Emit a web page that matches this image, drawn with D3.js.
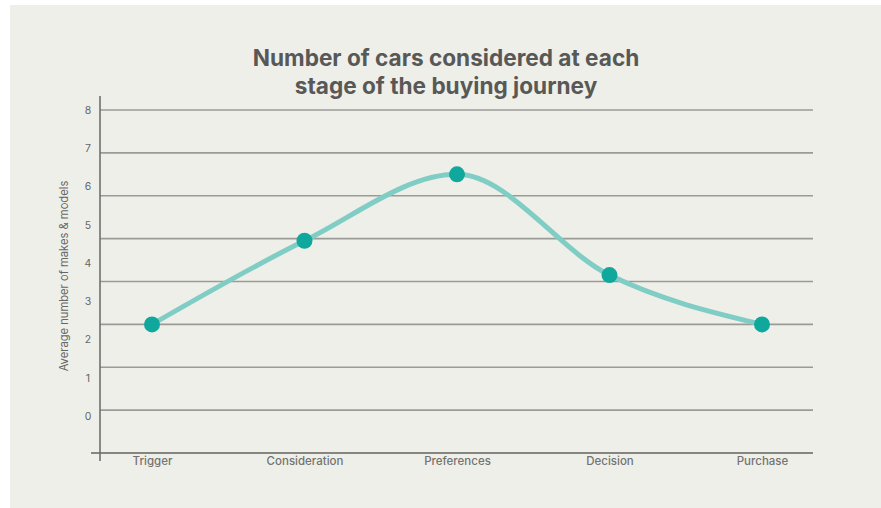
<!DOCTYPE html>
<html>
<head>
<meta charset="utf-8">
<script src="https://cdn.jsdelivr.net/npm/d3@7/dist/d3.min.js"></script>
<style>
  html, body { margin: 0; padding: 0; background: #ffffff; }
  svg { display: block; }
  text { font-family: "Inter", "Lato", sans-serif; }
</style>
</head>
<body>
<svg id="chart" width="881" height="508"></svg>
<script>
// Buying-journey stages and the average number of makes & models considered
const stages = ["Trigger", "Consideration", "Preferences", "Decision", "Purchase"];
const carsConsidered = [3.0, 4.95, 6.5, 4.15, 3.0];
const tickLabels = [0, 1, 2, 3, 4, 5, 6, 7, 8];
const titleLines = ["Number of cars considered at each", "stage of the buying journey"];
const yAxisTitle = "Average number of makes & models";

const svg = d3.select("#chart");
const W = 881, H = 508;

// panel background
svg.append("rect")
  .attr("x", 10).attr("y", 5)
  .attr("width", W - 10).attr("height", H - 5)
  .attr("fill", "#efefea");

const plot = { left: 100, right: 813, top: 110, bottom: 453 };

// value scale used for gridlines and the line
const y = d3.scaleLinear().domain([0, 8]).range([plot.bottom, plot.top]);
// label scale for the numbers on the left
const yLabel = d3.scaleLinear().domain([0, 8]).range([416, 110]);
const x = d3.scalePoint().domain(stages).range([152, 762]);

// horizontal gridlines
svg.append("g")
  .selectAll("line")
  .data(d3.range(1, 9))
  .join("line")
  .attr("x1", plot.left).attr("x2", plot.right)
  .attr("y1", d => y(d)).attr("y2", d => y(d))
  .attr("stroke", "#9a9a96")
  .attr("stroke-width", 1.6);

// axes lines
svg.append("line")
  .attr("x1", 91).attr("x2", plot.right)
  .attr("y1", plot.bottom).attr("y2", plot.bottom)
  .attr("stroke", "#858582").attr("stroke-width", 1.8);
svg.append("line")
  .attr("x1", plot.left).attr("x2", plot.left)
  .attr("y1", 96).attr("y2", 461)
  .attr("stroke", "#6f6f6c").attr("stroke-width", 1.6);

// y tick labels
const yAxis = d3.axisLeft(yLabel).tickValues(tickLabels).tickSize(0).tickPadding(0)
  .tickFormat(d3.format("d"));
const gy = svg.append("g").attr("transform", "translate(91,0)").call(yAxis);
gy.select(".domain").remove();
gy.selectAll("text")
  .attr("font-size", 10.5)
  .attr("fill", "#666664")
  .attr("text-anchor", "middle")
  .attr("x", -3);

// y axis title
svg.append("text")
  .attr("transform", "translate(68,276) rotate(-90)")
  .attr("text-anchor", "middle")
  .attr("font-size", 11.2)
  .attr("fill", "#666664")
  .text(yAxisTitle);

// x labels
const xAxis = d3.axisBottom(x).tickSize(0).tickPadding(0);
const gx = svg.append("g").attr("transform", `translate(0,${plot.bottom})`).call(xAxis);
gx.select(".domain").remove();
gx.selectAll("text")
  .attr("font-size", 11.5)
  .attr("font-weight", 500)
  .attr("fill", "#737370")
  .attr("y", 4);

// journey line
const pts = stages.map((s, i) => [x(s), y(carsConsidered[i])]);
svg.append("path")
  .datum(pts)
  .attr("fill", "none")
  .attr("stroke", "#7fcdc4")
  .attr("stroke-width", 5)
  .attr("stroke-linecap", "round")
  .attr("d", d3.line().curve(d3.curveMonotoneX));

svg.append("g")
  .selectAll("circle")
  .data(pts)
  .join("circle")
  .attr("cx", d => d[0]).attr("cy", d => d[1])
  .attr("r", 8)
  .attr("fill", "#10a79c");

// title
svg.append("g")
  .selectAll("text")
  .data(titleLines)
  .join("text")
  .attr("x", 446)
  .attr("y", (d, i) => 66 + i * 28)
  .attr("text-anchor", "middle")
  .attr("font-size", 22.6)
  .attr("font-weight", 700)
  .attr("fill", "#585856")
  .text(d => d);
</script>
</body>
</html>
